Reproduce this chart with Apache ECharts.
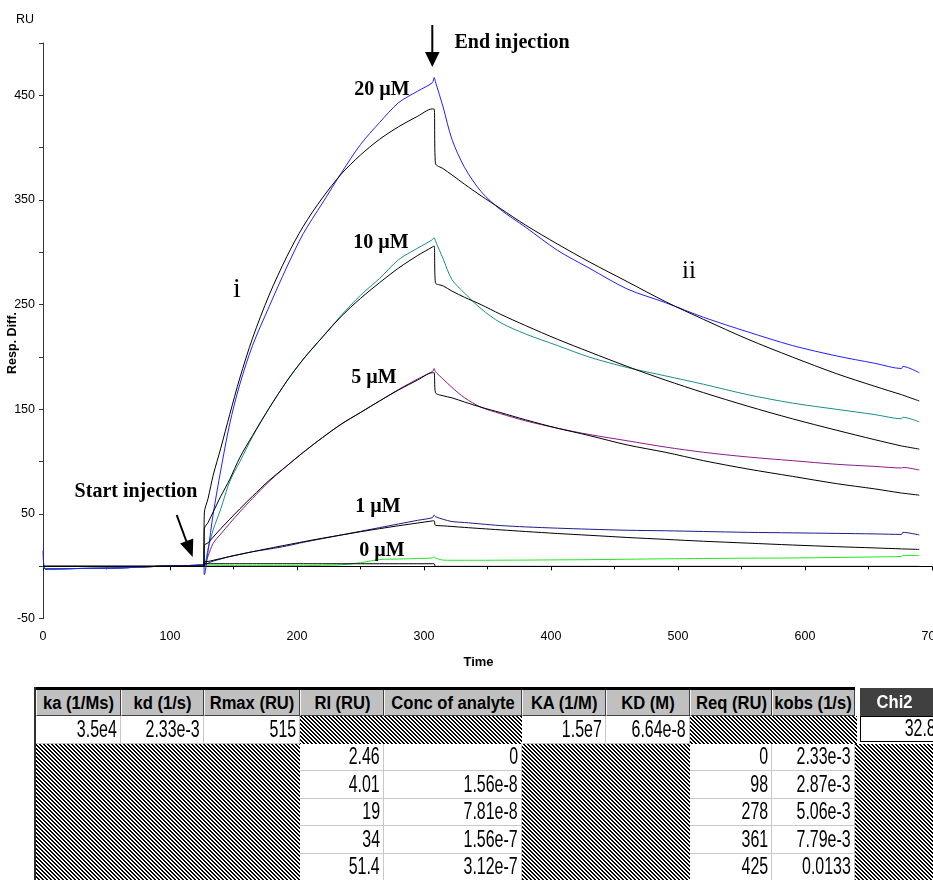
<!DOCTYPE html>
<html><head><meta charset="utf-8">
<script src="https://cdn.jsdelivr.net/npm/echarts@6/dist/echarts.min.js"></script>
<style>
html,body{margin:0;padding:0;background:#fff;width:933px;height:880px;overflow:hidden;position:relative}
#chart{position:absolute;left:0;top:0;width:933px;height:680px}
#table{position:absolute;left:0;top:0;width:933px;height:880px;pointer-events:none;overflow:hidden}
.c{position:absolute;box-sizing:border-box;overflow:hidden;white-space:nowrap;font-family:"Liberation Sans",Arial,sans-serif;line-height:1}
.h{display:inline-block;font-weight:bold;font-size:18px;transform:scaleX(0.92);transform-origin:50% 50%}
.v{display:inline-block;font-size:23.5px;transform:scaleX(0.68);transform-origin:100% 50%;color:#000}
</style></head>
<body>
<div id="chart"></div>
<div id="table"></div>
<script>
// ---- sensorgram data (time in s, response in RU) ----
const timeSec = [0,0.5,2,30,60,90,120,126.6,127,130,134,140,147,155,165,178,192,205,220,235,250,265,280,295,306.5,308,309,315,322,332,345,360,380,405,430,460,490,520,555,590,625,655,676,677,690];

const exp20 = [15,4,-2.5,-2,-1.5,0,1,1.5, -8,15,50,92,136,174,211,248,286, 318,347,376,403,424,443,454,462,467,463, 439,408,381,358,341,324,302,285,265,252, 238,224,211,201,194,189,191,185];
const fit20 = [0,0,0,0,0,0,0,0, 51,65,87,113,145,180,218,259,296, 325,352,375,393,408,420,430,437,437,385, 380,374,365,354,342,326,308,291,272,253, 236,217,200,184,172,164,163.6,158];
const exp10 = [0,-1,-2.5,-2,-1.5,0,1,1.5, 1,17,35,55,81,100,124,151,177, 198,219,240,259,275,293,304,312,314,311, 294,274,261,246,233,222,211,200,190,182, 174,164,156,150,145,141,142.5,138];
const fit10 = [0,0,0,0,0,0,0,0, 36,42,52,67,83,104,125,151,177, 198,219,239,256,271,285,297,305,306,271, 268,263,257,250,241,230,217,205,191,178, 166,153,141,130,121,115,114.8,112];
const exp5 = [0,-1,-2.5,-2,-1.5,0,1,1.5, 1,10,22,31,41,52,65,81,96, 109,123,136,147,158,169,179,186,189,186, 179,171,161,152,146,139,132,126,120,114, 109,104.5,101,97.5,95.5,94,94.5,92];
const fit5 = [0,0,0,0,0,0,0,0, 20,22.5,28,36,45,55,67,82,96, 109,123,136,147,158,168.5,178,185,185,166, 163,161,157,152,147,140,132,125,116,109, 101,93,86,79,74,70,69.9,68];
const exp1 = [0,-1,-2.5,-2,-1.5,0,1,1.5, 1,3,5,7,9.5,11.5,14,16.5,19.5, 23,26.5,30,33.5,37,40.5,44,46.5,49,47.5, 45,42.8,41.9,40.5,39,37.7,36.5,35.5,34.5,34, 33.3,32.5,32,31.5,31,30.5,32.5,30];
const fit1 = [0,0,0,0,0,0,0,0, 4,4.7,5.8,7.5,9.3,11.4,14,17.2,20.5, 23.5,26.9,30,33.1,36,38.8,41.4,43.4,43.5,39.3, 38.7,38.1,37.2,36.1,34.9,33.3,31.4,29.7,27.6,25.8, 24,22.2,20.4,18.8,17.6,16.7,16.66,16.2];
const exp0 = [0,-1,-2.5,-2,-1.5,0,1,1.5, 1,1,1,1,0.8,0.7,0.7,0.7,0.7, 0.7,1,1.5,3.5,6.5,7,7.5,8,9,8, 6,5.8,5.8,5.8,5.9,6,6.2,6.4,6.8,7.2, 7.5,7.8,8,8.5,9,9.5,10.5,10.3];
const fit0 = [0,0,0,0,0,0,0,0, 2.5,2.5,2.5,2.5,2.5,2.5,2.5,2.5,2.5, 2.5,2.5,2.5,2.5,2.5,2.5,2.5,2.5,2.5,0, 0,0,0,0,0,0,0,0,0,0, 0,0,0,0,0,0,0,0];

const concLabels = ["20 µM","10 µM","5 µM","1 µM","0 µM"];

// ---- table data ----
const headers = ["ka (1/Ms)","kd (1/s)","Rmax (RU)","RI (RU)","Conc of analyte","KA (1/M)","KD (M)","Req (RU)","kobs (1/s)"];
const globalRow = ["3.5e4","2.33e-3","515",null,null,"1.5e7","6.64e-8",null,null];
const chi2Value = "32.8";
const riVals = ["2.46","4.01","19","34","51.4"];
const concVals = ["0","1.56e-8","7.81e-8","1.56e-7","3.12e-7"];
const reqVals = ["0","98","278","361","425"];
const kobsVals = ["2.33e-3","2.87e-3","5.06e-3","7.79e-3","0.0133"];

const chart = echarts.init(document.getElementById('chart'), null, {renderer:'canvas'});
function mk(name, vals, color, z){
  return {name, type:'line', data: timeSec.map((t,i)=>[t, vals[i]]), symbol:'none', showSymbol:false,
    smooth:0.3, lineStyle:{color, width:1}, itemStyle:{color}, z, animation:false, silent:true};
}
const serifB = 'bold 20px "Liberation Serif", "Times New Roman", serif';
function txt(x,y,t,font,extra){return Object.assign({type:'text', x, y, style:{text:t, font, fill:'#000', textAlign:'center', textVerticalAlign:'middle'}, z:100}, extra||{});}

chart.setOption({
  animation:false,
  backgroundColor:'#fff',
  grid:{left:43, right:1, top:43, bottom:61.3, containLabel:false, outerBoundsMode:'none'},
  xAxis:{type:'value', min:0, max:700, interval:100,
    axisLine:{lineStyle:{color:'#000', width:1}},
    axisTick:{show:true, length:4, lineStyle:{color:'#000'}},
    minorTick:{show:true, splitNumber:2, length:3, lineStyle:{color:'#000'}},
    axisLabel:{color:'#000', fontSize:12.5, fontFamily:'"Liberation Sans", Arial', margin:11, alignMaxLabel:'center', alignMinLabel:'center'},
    splitLine:{show:false}, minorSplitLine:{show:false}},
  yAxis:{type:'value', min:-50, max:500, interval:50,
    axisLine:{show:true, lineStyle:{color:'#333', width:1}},
    axisTick:{show:true, length:4, lineStyle:{color:'#333'}},
    axisLabel:{color:'#000', fontSize:12.5, fontFamily:'"Liberation Sans", Arial', margin:8,
      formatter:v=> (((v+50)%100)===0 && v<500) ? String(v) : ''},
    splitLine:{show:false}},
  series:[
    mk('0 µM', exp0, '#22e822', 2),
    mk('1 µM', exp1, '#1c1c8e', 3),
    mk('5 µM', exp5, '#8e1a8e', 4),
    mk('10 µM', exp10, '#1a8e8e', 5),
    mk('20 µM', exp20, '#2020ff', 6),
    mk('fit 0', fit0, '#000', 10),
    mk('fit 1', fit1, '#000', 10),
    mk('fit 5', fit5, '#000', 10),
    mk('fit 10', fit10, '#000', 10),
    mk('fit 20', fit20, '#000', 10)
  ],
  graphic:[
    txt(25,20,'RU','12.5px "Liberation Sans", Arial'),
    txt(12.5,343,'Resp. Diff.','bold 12.5px "Liberation Sans", Arial',{rotation:Math.PI/2}),
    txt(478.5,662,'Time','bold 13px "Liberation Sans", Arial'),
    txt(382,90,concLabels[0],serifB),
    txt(381,243,concLabels[1],serifB),
    txt(374,378,concLabels[2],serifB),
    txt(378,507,concLabels[3],serifB),
    txt(382,551,concLabels[4],serifB),
    txt(136,492,'Start injection',serifB),
    txt(512,43,'End injection',serifB),
    txt(237,290,'i','28px "Liberation Serif", "Times New Roman", serif'),
    txt(689,271,'ii','25px "Liberation Serif", "Times New Roman", serif'),
    {type:'line', shape:{x1:432.3,y1:25,x2:432.3,y2:54}, style:{stroke:'#000', lineWidth:2}, z:100},
    {type:'polygon', shape:{points:[[425,52],[439.6,52],[432.3,67]]}, style:{fill:'#000'}, z:100},
    {type:'line', shape:{x1:176.7,y1:515,x2:187,y2:543}, style:{stroke:'#000', lineWidth:2}, z:100},
    {type:'polygon', shape:{points:[[193.3,538.6],[180.1,543.5],[192.7,557]]}, style:{fill:'#000'}, z:100}
  ]
});

// ---- table ----
const tbl = document.getElementById('table');
function hatchURL(){
  const c=document.createElement('canvas'); c.width=4; c.height=4;
  const g=c.getContext('2d'); const im=g.createImageData(4,4);
  for(let y=0;y<4;y++)for(let x=0;x<4;x++){
    const k=((x-y)%4+4)%4; const val=(k<2)?0:255; const i=(y*4+x)*4;
    im.data[i]=im.data[i+1]=im.data[i+2]=val; im.data[i+3]=255;}
  g.putImageData(im,0,0); return c.toDataURL();
}
const HATCH = hatchURL();
function box(x,y,w,h,css,html){
  const d=document.createElement('div'); d.className='c';
  d.style.cssText=`left:${x}px;top:${y}px;width:${w}px;height:${h}px;`+(css||'');
  if(html!=null) d.innerHTML=html; tbl.appendChild(d); return d;
}
function hatch(x,y,w,h){ box(x,y,w,h,`background-image:url(${HATCH});background-repeat:repeat;background-position:${-x}px ${-y}px;image-rendering:pixelated;`); }
const colEdges=[36,121,204,300,384,522,606,690,772,855];
const rowTop=[716,743.5,771,798.5,826,853.5];
const rowH=27.5;
box(35,687,820,3,'background:#000');
for(let i=0;i<headers.length;i++){
  const x=colEdges[i], w=colEdges[i+1]-colEdges[i];
  box(x,690,w,26,'background:#c0c0c0;border-right:1px solid #404040;border-left:1px solid #f4f4f4;border-bottom:1px solid #404040;display:flex;align-items:center;justify-content:center;',`<span class="h">${headers[i]}</span>`);
}
box(860,688,85,28,'background:#404040;color:#fff;display:flex;align-items:center;justify-content:center;padding-right:16px;','<span class="h">Chi2</span>');
function valCell(x,y,w,t){
  box(x,y,w,rowH,'background:#fff;border-right:1px solid #c8c8c8;border-bottom:1px solid #c8c8c8;display:flex;align-items:center;justify-content:flex-end;padding-right:3px;',`<span class="v">${t}</span>`);
}
for(let i=0;i<globalRow.length;i++){
  if(globalRow[i]!=null) valCell(colEdges[i],rowTop[0],colEdges[i+1]-colEdges[i],globalRow[i]);
}
hatch(300,rowTop[0],222,rowH);
hatch(690,rowTop[0],167,rowH);
box(860,716,85,26,'background:#fff;border:1px solid #000;border-right:none;display:flex;align-items:center;justify-content:flex-end;padding-right:9px;',`<span class="v">${chi2Value}</span>`);
const yr=rowTop[1];
hatch(36,yr,264,880-yr);
hatch(522,yr,168,880-yr);
hatch(855,yr,90,880-yr);
for(let r=0;r<riVals.length;r++){
  const y=rowTop[r+1];
  valCell(300,y,84,riVals[r]);
  valCell(384,y,138,concVals[r]);
  valCell(690,y,82,reqVals[r]);
  valCell(772,y,83,kobsVals[r]);
}
box(34,687,2,193,'background:#303030');
</script>
</body></html>
